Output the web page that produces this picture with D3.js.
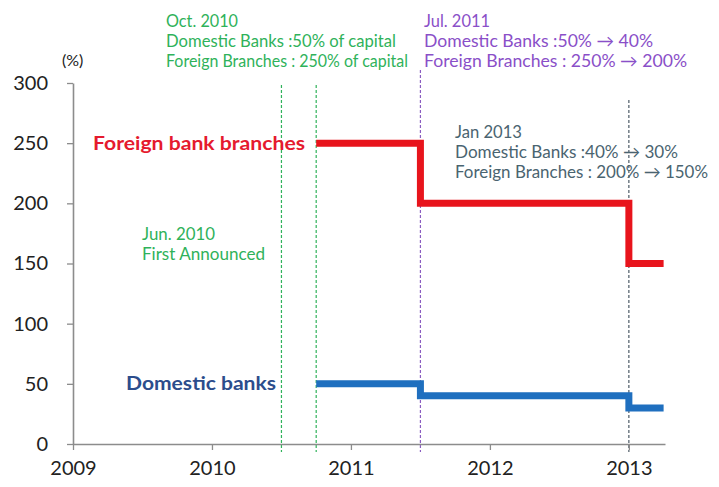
<!DOCTYPE html>
<html>
<head>
<meta charset="utf-8">
<script src="https://cdn.jsdelivr.net/npm/d3@7"></script>
<style>
  html, body { margin: 0; padding: 0; background: #fff; }
  svg { display: block; font-family: Lato, "Open Sans", sans-serif; }
</style>
</head>
<body>
<svg id="chart" width="719" height="487"></svg>
<script>
// Required capital limits on FX derivative positions (% of capital)
const stepDates   = [2010.75, 2011.5, 2013.0, 2013.25];
const foreignPct  = [250, 200, 150, 150];
const domesticPct = [50, 40, 30, 30];

// Policy event markers (fractional year)
const eventDates  = [2010.5, 2010.75, 2011.5, 2013.0];
const eventColors = ["#2fb25a", "#2fb25a", "#8a5cc0", "#4d5a66"];

const yTicks = [0, 50, 100, 150, 200, 250, 300];
const xTicks = [2009, 2010, 2011, 2012, 2013];

const svg = d3.select("#chart");
const plotLeft = 73, plotRight = 665, plotTop = 83, plotBottom = 444;

const x = d3.scaleLinear().domain([2009, 2013.26]).range([plotLeft, plotRight]);
const y = d3.scaleLinear().domain([0, 300]).range([plotBottom, plotTop]);

// Event marker lines
const markerTop = [85, 85, 70, 100];
svg.append("g").selectAll("line")
  .data(eventDates)
  .join("line")
  .attr("x1", d => x(d)).attr("x2", d => x(d))
  .attr("y1", (d, i) => markerTop[i])
  .attr("y2", plotBottom + 8)
  .attr("stroke", (d, i) => eventColors[i])
  .attr("stroke-width", 1.2)
  .attr("stroke-dasharray", "3,2");

// Axes
const axisColor = "#8c8c8c";
const yAxis = svg.append("g")
  .attr("transform", `translate(${plotLeft},0)`)
  .call(d3.axisLeft(y).tickValues(yTicks).tickSize(6).tickPadding(19).tickSizeOuter(0));
const xAxis = svg.append("g")
  .attr("transform", `translate(0,${plotBottom})`)
  .call(d3.axisBottom(x).tickValues(xTicks).tickFormat(d3.format("d")).tickSize(6).tickPadding(11).tickSizeOuter(0));

[yAxis, xAxis].forEach(g => {
  g.select(".domain").attr("stroke", axisColor).attr("stroke-width", 1.6);
  g.selectAll(".tick line").attr("stroke", axisColor).attr("stroke-width", 1.3);
  g.selectAll(".tick text")
    .attr("fill", "#222")
    .style("font-size", "20px")
    .style("font-family", "Lato, 'Open Sans', sans-serif");
});

svg.append("text")
  .attr("x", 62).attr("y", 66)
  .attr("fill", "#222")
  .style("font-size", "16px")
  .text("(%)");

// Step lines
const stepLine = d3.line()
  .x(d => x(d[0]))
  .y(d => y(d[1]))
  .curve(d3.curveStepAfter);

svg.append("path")
  .datum(d3.zip(stepDates, foreignPct))
  .attr("d", stepLine)
  .attr("fill", "none")
  .attr("stroke", "#e8141c")
  .attr("stroke-width", 7);

svg.append("path")
  .datum(d3.zip(stepDates, domesticPct))
  .attr("d", stepLine)
  .attr("fill", "none")
  .attr("stroke", "#1f6fbf")
  .attr("stroke-width", 7);

// Series labels
svg.append("text")
  .attr("x", 93).attr("y", 150)
  .attr("fill", "#e51a2e")
  .attr("font-weight", "bold")
  .attr("textLength", 212).attr("lengthAdjust", "spacingAndGlyphs")
  .style("font-size", "19px")
  .text("Foreign bank branches");

svg.append("text")
  .attr("x", 126).attr("y", 390)
  .attr("fill", "#2c4d8c")
  .attr("font-weight", "bold")
  .attr("textLength", 150).attr("lengthAdjust", "spacingAndGlyphs")
  .style("font-size", "19px")
  .text("Domestic banks");

// Event annotations
function note(x0, baselines, color, lines) {
  const g = svg.append("g").attr("fill", color).style("font-size", "17px");
  lines.forEach((ln, i) => {
    g.append("text")
      .attr("x", x0).attr("y", baselines[i])
      .attr("textLength", ln[1]).attr("lengthAdjust", "spacingAndGlyphs")
      .text(ln[0]);
  });
}

note(166, [27, 47, 67], "#2fb25a", [
  ["Oct. 2010", 72],
  ["Domestic Banks :50% of capital", 230],
  ["Foreign Branches : 250% of capital", 242]
]);

note(424, [27, 47, 67], "#8a4fc8", [
  ["Jul. 2011", 66],
  ["Domestic Banks :50% \u2192 40%", 229],
  ["Foreign Branches : 250% \u2192 200%", 263]
]);

note(455, [138, 158, 178], "#4a6470", [
  ["Jan 2013", 67],
  ["Domestic Banks :40% \u2192 30%", 223],
  ["Foreign Branches : 200% \u2192 150%", 253]
]);

note(142, [240, 260], "#2fb25a", [
  ["Jun. 2010", 73],
  ["First Announced", 123]
]);
</script>
</body>
</html>
